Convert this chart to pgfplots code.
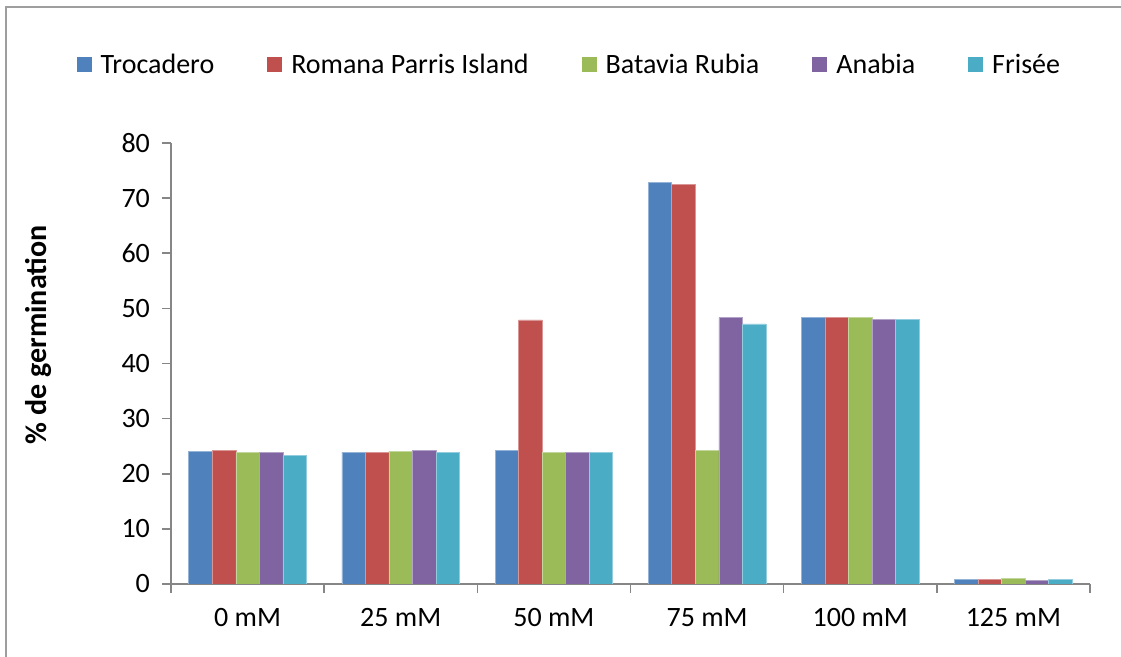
\documentclass[border=0pt]{standalone}
\usepackage{pgfplots}
\pgfplotsset{compat=1.18}
\usepackage{fontspec}
\setmainfont{Carlito}

\definecolor{cA}{HTML}{4F81BD}
\definecolor{cB}{HTML}{C0504D}
\definecolor{cC}{HTML}{9BBB59}
\definecolor{cD}{HTML}{8064A2}
\definecolor{cE}{HTML}{4BACC6}
\definecolor{axgray}{HTML}{868686}

\pgfplotsset{
  lg/.style={legend image code/.code={\fill[##1,draw=none] (0pt,-3.75pt) rectangle (7.5pt,3.75pt);}},
}

\begin{document}
\begin{tikzpicture}
% 1 px of the reference = 0.5pt
\path[use as bounding box] (0,0) rectangle (560.5pt,328.5pt);
\draw[axgray!80,line width=1pt] (3pt,0) -- (3pt,325pt) -- (560.5pt,325pt);

\begin{axis}[
  at={(85.5pt,36.5pt)}, anchor=south west,
  scale only axis,
  width=459.5pt, height=220.5pt,
  font=\fontsize{14}{16}\selectfont,
  /pgf/number format/assume math mode=true,
  ybar=0pt, bar width=0.1536,
  xmin=-0.5, xmax=5.5,
  ymin=0, ymax=80,
  ytick={0,10,...,80},
  xtick={0,...,5},
  xticklabels={0 mM,25 mM,50 mM,75 mM,100 mM,125 mM},
  minor xtick={-0.5,0.5,...,5.5},
  axis lines*=left,
  axis line style={draw=axgray,line width=0.8pt},
  tick align=outside,
  major tick length=4.5pt,
  minor tick length=4.5pt,
  every tick/.style={draw=axgray,line width=0.8pt},
  xtick style={draw=none},
  minor x tick style={draw=axgray,line width=0.8pt},
  yticklabel style={xshift=-2.5pt},
  xticklabel style={yshift=-4pt},
  ylabel={\fontsize{15}{17}\selectfont\bfseries\% de germination},
  ylabel style={at={(axis description cs:-0.1447,0.565)}, anchor=center},
  legend columns=5,
  legend style={
    at={(axis description cs:0.434,1.177)}, anchor=center,
    draw=none, fill=none,
    font=\fontsize{14}{16}\selectfont,
    nodes={inner sep=1.5pt},
    /tikz/every odd column/.append style={column sep=3pt},
    /tikz/every even column/.append style={column sep=25pt},
  },
  legend cell align=left,
]
\addplot[fill=cA, draw=cA!60!white, line width=0.3pt, lg] coordinates
  {(0,24.1) (1,23.9) (2,24.2) (3,72.8) (4,48.3) (5,0.8)};
\addplot[fill=cB, draw=cB!60!white, line width=0.3pt, lg] coordinates
  {(0,24.2) (1,23.9) (2,47.9) (3,72.5) (4,48.3) (5,0.8)};
\addplot[fill=cC, draw=cC!60!white, line width=0.3pt, lg] coordinates
  {(0,23.9) (1,24.1) (2,23.9) (3,24.3) (4,48.4) (5,1.0)};
\addplot[fill=cD, draw=cD!60!white, line width=0.3pt, lg] coordinates
  {(0,23.9) (1,24.3) (2,23.9) (3,48.3) (4,48.0) (5,0.7)};
\addplot[fill=cE, draw=cE!60!white, line width=0.3pt, lg] coordinates
  {(0,23.3) (1,23.9) (2,23.9) (3,47.2) (4,48.0) (5,0.8)};
\legend{Trocadero,Romana Parris Island,Batavia Rubia,Anabia,Frisée}
\end{axis}
\end{tikzpicture}
\end{document}
